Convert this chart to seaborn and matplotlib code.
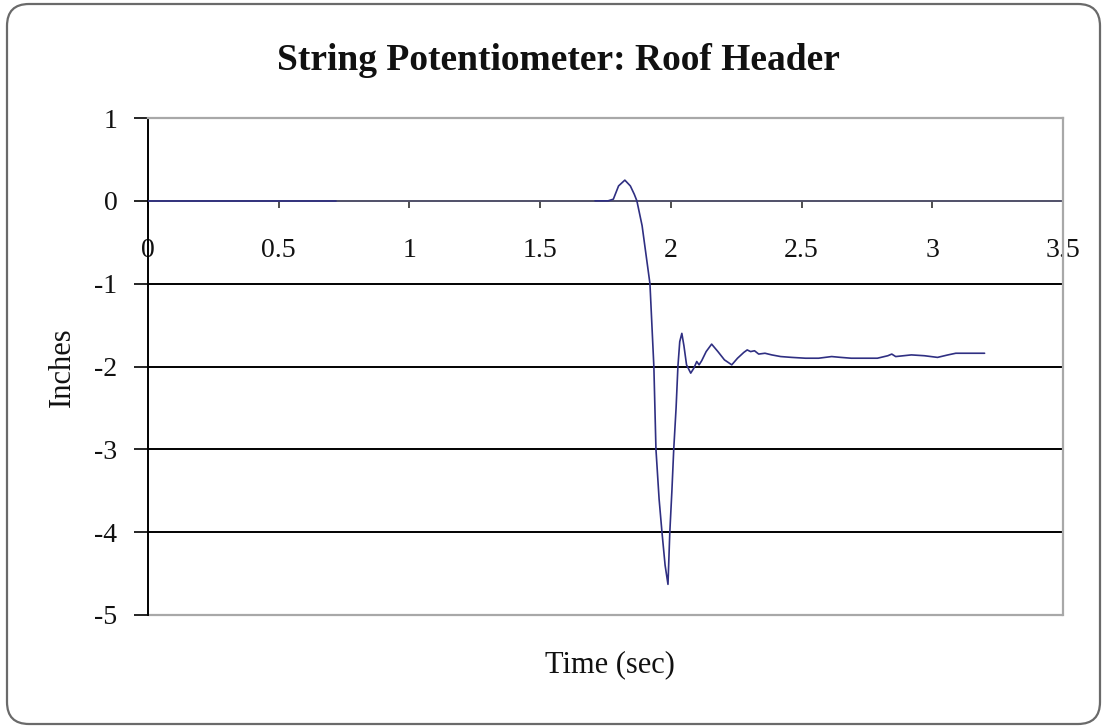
import numpy as np
import pandas as pd
import matplotlib
matplotlib.use("Agg")
import matplotlib.pyplot as plt
from matplotlib.patches import FancyBboxPatch
import seaborn as sns

# ---- data ----
time_sec = [0.0, 0.72,
            1.71, 1.74, 1.76, 1.78, 1.80, 1.824, 1.845, 1.86, 1.87, 1.89, 1.905, 1.92,
            1.935, 1.943, 1.955, 1.966, 1.978, 1.989, 1.996, 2.004, 2.011, 2.02, 2.027,
            2.034, 2.042, 2.05, 2.06, 2.076, 2.088, 2.099, 2.108, 2.118, 2.135, 2.156,
            2.18, 2.205, 2.233, 2.255, 2.279, 2.292, 2.305, 2.32, 2.336, 2.36, 2.386,
            2.42, 2.462, 2.515, 2.565, 2.615, 2.65, 2.69, 2.74, 2.79, 2.83, 2.845,
            2.86, 2.92, 2.97, 3.02, 3.06, 3.09, 3.15, 3.20]
inches = [0.0, 0.0,
          0.0, 0.0, 0.0, 0.02, 0.18, 0.25, 0.18, 0.08, 0.0, -0.3, -0.65, -1.0,
          -2.0, -3.0, -3.6, -4.0, -4.4, -4.63, -4.0, -3.5, -3.0, -2.5, -2.0,
          -1.7, -1.60, -1.75, -1.98, -2.08, -2.02, -1.94, -1.98, -1.93, -1.82, -1.73,
          -1.82, -1.92, -1.98, -1.90, -1.83, -1.80, -1.82, -1.81, -1.85, -1.84, -1.86,
          -1.88, -1.89, -1.90, -1.90, -1.88, -1.89, -1.90, -1.90, -1.90, -1.87, -1.85,
          -1.88, -1.86, -1.87, -1.89, -1.86, -1.84, -1.84, -1.84]
segment = [0, 0] + [1] * (len(time_sec) - 2)

x_ticks = [0, 0.5, 1, 1.5, 2, 2.5, 3, 3.5]
x_tick_labels = ["0", "0.5", "1", "1.5", "2", "2.5", "3", "3.5"]
y_ticks = [-5, -4, -3, -2, -1, 0, 1]
y_tick_labels = ["-5", "-4", "-3", "-2", "-1", "0", "1"]

title = "String Potentiometer: Roof Header"
x_label = "Time (sec)"
y_label = "Inches"

df = pd.DataFrame({"t": time_sec, "v": inches, "seg": segment})

sns.set_theme(style="white")
plt.rcParams["font.family"] = ["Liberation Serif", "DejaVu Serif"]

W, H = 1104, 727
fig = plt.figure(figsize=(W / 100, H / 100), dpi=100)
fig.patch.set_facecolor("white")

L, R, T, B = 148, 1063, 118, 615
ax = fig.add_axes([L / W, 1 - B / H, (R - L) / W, (B - T) / H])

# gridlines
for yv in [-1, -2, -3, -4]:
    ax.axhline(yv, color="black", lw=1.4, zorder=1)
ax.axhline(-5, color="#a8a8a8", lw=1.6, zorder=1, clip_on=False)

sns.lineplot(data=df, x="t", y="v", units="seg", estimator=None,
             color="#2f2f82", lw=1.2, ax=ax, zorder=3, legend=False)

ax.set_xlim(0, 3.5)
ax.set_ylim(-5, 1)

for s in ["top", "right"]:
    ax.spines[s].set_color("#a8a8a8")
    ax.spines[s].set_linewidth(1.6)
ax.spines["left"].set_color("black")
ax.spines["left"].set_linewidth(1.4)
ax.spines["bottom"].set_position(("data", 0))
ax.spines["bottom"].set_color("#505068")
ax.spines["bottom"].set_linewidth(1.4)
ax.spines["bottom"].set_zorder(2)

ax.set_xticks(x_ticks)
ax.set_xticklabels(x_tick_labels)
ax.set_yticks(y_ticks)
ax.set_yticklabels(y_tick_labels)
ax.tick_params(axis="x", direction="out", length=5, width=1.2, color="#303030",
               pad=22, labelsize=20, labelcolor="#111111", bottom=True)
ax.tick_params(axis="y", direction="out", length=10, width=1.2, color="black",
               pad=12, labelsize=20, labelcolor="#111111", left=True)
ax.set_xlabel("")
ax.set_ylabel("")

fig.text(558 / W, 1 - 60 / H, title, ha="center", va="center",
         fontsize=27, fontweight="bold", color="#111111")
fig.text(610 / W, 1 - 665 / H, x_label, ha="center", va="center",
         fontsize=22, color="#111111")
fig.text(62 / W, 1 - 367 / H, y_label, ha="center", va="center",
         fontsize=22, rotation=90, color="#111111")

frame = FancyBboxPatch((7, 3), 1093, 720,
                       boxstyle="round,pad=0,rounding_size=22",
                       transform=None, fill=False, edgecolor="#6a6a6a", lw=1.6)
fig.patches.append(frame)

fig.savefig("out.png", dpi=100)
